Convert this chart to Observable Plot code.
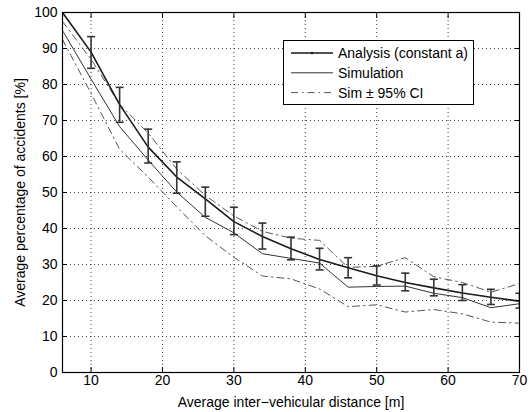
<!DOCTYPE html>
<html>
<head>
<meta charset="utf-8">
<script src="https://cdn.jsdelivr.net/npm/d3@7"></script>
<script src="https://cdn.jsdelivr.net/npm/@observablehq/plot@0.6"></script>
<style>
  html, body { margin: 0; padding: 0; background: #fff; }
  #wrap { position: relative; width: 531px; height: 412px; font-family: "Liberation Sans", Arial, Helvetica, sans-serif; }
  #legend { position: absolute; left: 283px; top: 40px; }
</style>
</head>
<body>
<div id="wrap"></div>
<script>
// ---- data ----
const distance   = [6, 10, 14, 18, 22, 26, 30, 34, 38, 42, 46, 50, 54, 58, 62, 66, 70];
const analysis   = [100, 89, 74.4, 62.6, 54.3, 48.2, 41.9, 37.8, 34.4, 31.4, 29.1, 26.9, 25, 23.5, 22.1, 20.9, 19.8];
const errLow     = [null, 84.5, 69.5, 58.2, 49.8, 43.4, 38.3, 34.3, 31.3, 28.5, 26.3, 24.3, 22.7, 21.3, 20, 18.9, 17.9];
const errHigh    = [null, 93.3, 79.2, 67.6, 58.5, 51.5, 45.9, 41.5, 37.6, 34.5, 31.9, 29.6, 27.6, 25.9, 24.4, 23.1, 22];
const simulation = [95, 81.5, 68.3, 59, 50.1, 43.1, 38.8, 33, 31.7, 30.4, 23.7, 23.9, 24, 22, 20.8, 18, 19.1];
const ciUpper    = [97.5, 87, 74.5, 66.5, 56.5, 49.2, 43.5, 39.2, 37.3, 36.7, 29.2, 29.5, 31.9, 26.6, 25, 22.3, 24.7];
const ciLower    = [92.5, 77.5, 62, 54.3, 46, 38, 32, 26.8, 26, 23.2, 18.3, 18.8, 16.8, 17.5, 16.3, 14, 13.7];
const xTicks = [10, 20, 30, 40, 50, 60, 70];
const yTicks = [0, 10, 20, 30, 40, 50, 60, 70, 80, 90, 100];
const legendLabels = ["Analysis (constant a)", "Simulation", "Sim \u00b1 95% CI"];

// ---- tables built from the arrays ----
const rows = distance.map((d, i) => ({
  d, a: analysis[i], s: simulation[i], lo: errLow[i], hi: errHigh[i]
}));
const bars = rows.filter(r => r.lo != null);
const ci = [
  ...distance.map((d, i) => ({d, v: ciUpper[i], k: "up"})),
  ...distance.map((d, i) => ({d, v: ciLower[i], k: "low"}))
];

const capSymbol = {
  draw(ctx, size) {
    const w = Math.sqrt(size / Math.PI);
    ctx.moveTo(-w, 0); ctx.lineTo(w, 0);
  }
};

const fontFamily = '"Liberation Sans", Arial, Helvetica, sans-serif';
const dash = "7,4,1.5,4";

const chart = Plot.plot({
  width: 531,
  height: 412,
  marginLeft: 62,
  marginRight: 12,
  marginTop: 12,
  marginBottom: 40,
  style: {fontFamily, fontSize: "14px", color: "#000", background: "#fff"},
  x: {domain: [6, 70]},
  y: {domain: [0, 100]},
  marks: [
    Plot.gridX(xTicks, {stroke: "#000", strokeOpacity: 0.75, strokeDasharray: "1,3"}),
    Plot.gridY(yTicks, {stroke: "#000", strokeOpacity: 0.75, strokeDasharray: "1,3"}),
    Plot.line(ci, {x: "d", y: "v", z: "k", stroke: "#555", strokeWidth: 1, strokeDasharray: dash, clip: true}),
    Plot.line(rows, {x: "d", y: "s", stroke: "#333", strokeWidth: 1, clip: true}),
    Plot.line(rows, {x: "d", y: "a", stroke: "#1a1a1a", strokeWidth: 1.6, clip: true}),
    Plot.ruleX(bars, {x: "d", y1: "lo", y2: "hi", stroke: "#333", strokeWidth: 1.6, clip: true}),
    Plot.dot(bars, {x: "d", y: "lo", symbol: capSymbol, r: 4, stroke: "#333", strokeWidth: 1.6, fill: "none", clip: true}),
    Plot.dot(bars, {x: "d", y: "hi", symbol: capSymbol, r: 4, stroke: "#333", strokeWidth: 1.6, fill: "none", clip: true}),
    Plot.axisX(xTicks, {anchor: "bottom", tickSize: 0, tickPadding: 3, fontSize: 14,
      label: "Average inter\u2212vehicular distance [m]", labelAnchor: "center", labelArrow: "none", labelOffset: 34}),
    Plot.axisY(yTicks, {anchor: "left", tickSize: 0, tickPadding: 5, fontSize: 14,
      label: "Average percentage of accidents [%]", labelAnchor: "center", labelArrow: "none", labelOffset: 47}),
    Plot.axisX(xTicks, {anchor: "bottom", tickSize: -5, tickFormat: () => "", label: null, stroke: "#000"}),
    Plot.axisX(xTicks, {anchor: "top", tickSize: -5, tickFormat: () => "", label: null, stroke: "#000"}),
    Plot.axisY(yTicks, {anchor: "left", tickSize: -5, tickFormat: () => "", label: null, stroke: "#000"}),
    Plot.axisY(yTicks, {anchor: "right", tickSize: -5, tickFormat: () => "", label: null, stroke: "#000"}),
    Plot.frame({stroke: "#000", strokeWidth: 1.2})
  ]
});

const wrap = document.getElementById("wrap");
wrap.appendChild(chart);

// ---- legend (inside the axes, top right) ----
const styles = [
  {stroke: "#1a1a1a", w: 1.6, dash: null, dot: true},
  {stroke: "#333", w: 1, dash: null, dot: false},
  {stroke: "#555", w: 1, dash: dash, dot: false}
];
const lw = 190, lh = 64;
const leg = d3.create("svg").attr("id", "legend").attr("width", lw + 1).attr("height", lh + 1)
  .style("font-family", fontFamily).style("font-size", "14px");
leg.append("rect").attr("x", 0.5).attr("y", 0.5).attr("width", lw).attr("height", lh)
  .attr("fill", "#fff").attr("stroke", "#000").attr("stroke-width", 1);
legendLabels.forEach((t, i) => {
  const y = 13 + i * 19.8;
  const s = styles[i];
  const ln = leg.append("line").attr("x1", 8).attr("x2", 50).attr("y1", y).attr("y2", y)
    .attr("stroke", s.stroke).attr("stroke-width", s.w);
  if (s.dash) ln.attr("stroke-dasharray", s.dash);
  if (s.dot) leg.append("circle").attr("cx", 29).attr("cy", y).attr("r", 1.3).attr("fill", s.stroke);
  leg.append("text").attr("x", 55).attr("y", y).attr("dy", "0.36em").attr("fill", "#000").text(t);
});
wrap.appendChild(leg.node());
</script>
</body>
</html>
